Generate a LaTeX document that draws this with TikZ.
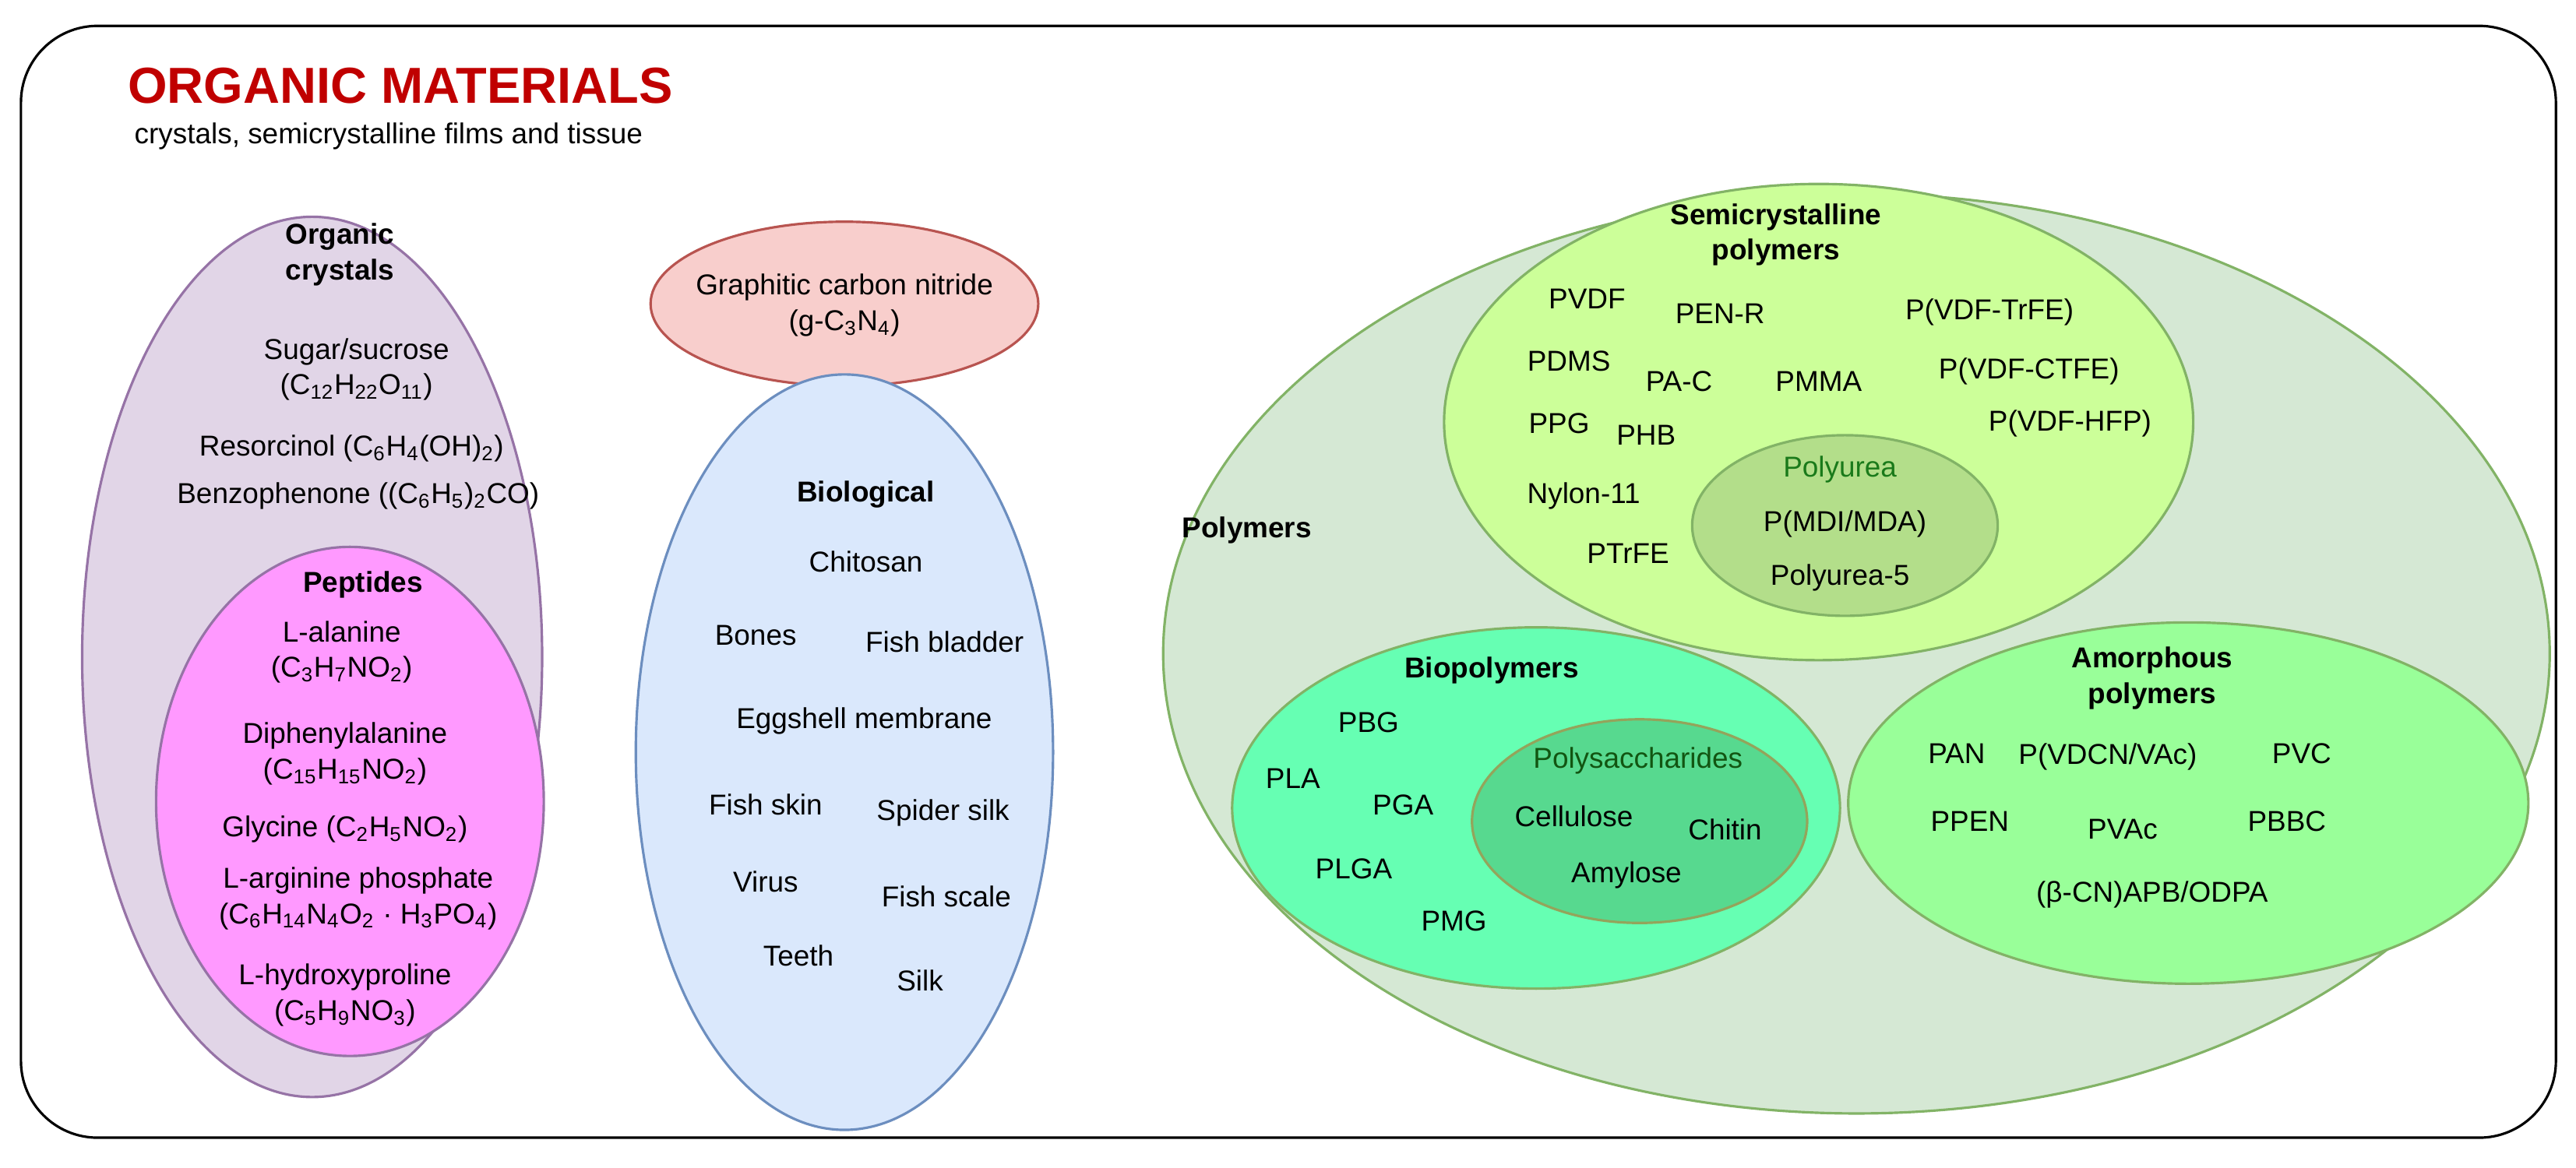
\documentclass[tikz,border=0pt]{standalone}
\usepackage{fontspec}
\setmainfont{Liberation Sans}
\usetikzlibrary{shapes.geometric}
\definecolor{purpfill}{HTML}{E1D5E7}
\definecolor{purpline}{HTML}{9673A6}
\definecolor{pinkfill}{HTML}{FF99FF}
\definecolor{redfill}{HTML}{F8CECC}
\definecolor{redline}{HTML}{B85450}
\definecolor{bluefill}{HTML}{DAE8FC}
\definecolor{blueline}{HTML}{6C8EBF}
\definecolor{greenfill}{HTML}{D5E8D4}
\definecolor{greenline}{HTML}{82B366}
\definecolor{semifill}{HTML}{CCFF99}
\definecolor{ureafill}{HTML}{B3DE8A}
\definecolor{biofill}{HTML}{66FFB3}
\definecolor{sacfill}{HTML}{57D98F}
\definecolor{amorfill}{HTML}{99FF99}
\definecolor{titlered}{HTML}{C00000}
\definecolor{darkgreen}{HTML}{1A7A1A}
\newcommand{\ix}[1]{\textsubscript{#1}}
\tikzset{
  blob/.style = {ellipse, draw, line width=0.9pt, inner sep=0pt},
  lbl/.style  = {font=\fontsize{10.5}{13}\selectfont, align=center},
  head/.style = {lbl, font=\fontsize{10.5}{13}\selectfont\bfseries}
}
\begin{document}
\begin{tikzpicture}[x=0.02109cm, y=-0.02109cm]
\useasboundingbox (0,0) rectangle (1568,711);
\node[draw, line width=0.9pt, rounded corners=28pt, minimum width=1543*0.02109cm,
  minimum height=677*0.02109cm, anchor=north west] (frame) at (12,15) {};
\node[anchor=west, text=titlered, font=\fontsize{18.5}{22}\selectfont\bfseries] (title) at (72,52) {ORGANIC MATERIALS};
\node[anchor=west, lbl] (sub) at (76,83) {crystals, semicrystalline films and tissue};

% organic crystals
\node[blob, fill=purpfill, draw=purpline, minimum width=280*0.02109cm, minimum height=536*0.02109cm] (orgc) at (190,400) {};
\node[blob, fill=pinkfill, draw=purpline, minimum width=236*0.02109cm, minimum height=310*0.02109cm] (pept) at (213,488) {};
\node[head] (orgct) at (207,155) {Organic\\crystals};
\node[lbl] (sug) at (217,225) {Sugar/sucrose\\(C\ix{12}H\ix{22}O\ix{11})};
\node[lbl] (res) at (214,273) {Resorcinol (C\ix{6}H\ix{4}(OH)\ix{2})};
\node[lbl] (ben) at (218,302) {Benzophenone ((C\ix{6}H\ix{5})\ix{2}CO)};
\node[head] (peptt) at (221,356) {Peptides};
\node[lbl] (ala) at (208,397) {L-alanine\\(C\ix{3}H\ix{7}NO\ix{2})};
\node[lbl] (dip) at (210,459) {Diphenylalanine\\(C\ix{15}H\ix{15}NO\ix{2})};
\node[lbl] (gly) at (210,505) {Glycine (C\ix{2}H\ix{5}NO\ix{2})};
\node[lbl] (arg) at (218,547) {L-arginine phosphate\\(C\ix{6}H\ix{14}N\ix{4}O\ix{2} · H\ix{3}PO\ix{4})};
\node[lbl] (hyd) at (210,606) {L-hydroxyproline\\(C\ix{5}H\ix{9}NO\ix{3})};

% carbon nitride
\node[blob, fill=redfill, draw=redline, minimum width=236*0.02109cm, minimum height=100*0.02109cm] (gcn) at (514,185) {};
\node[lbl] (gcnt) at (514,186) {Graphitic carbon nitride\\(g-C\ix{3}N\ix{4})};

% biological
\node[blob, fill=bluefill, draw=blueline, minimum width=254*0.02109cm, minimum height=460*0.02109cm] (bio) at (514,458) {};
\node[head] (biot) at (527,301) {Biological};
\node[lbl] (chi) at (527,342) {Chitosan};
\node[lbl] (bon) at (460,387) {Bones};
\node[lbl] (fbl) at (575,391) {Fish bladder};
\node[lbl] (egg) at (526,439) {Eggshell membrane};
\node[lbl] (fsk) at (466,490) {Fish skin};
\node[lbl] (spi) at (574,495) {Spider silk};
\node[lbl] (vir) at (466,537) {Virus};
\node[lbl] (fsc) at (576,546) {Fish scale};
\node[lbl] (tee) at (486,582) {Teeth};
\node[lbl] (sil) at (560,597) {Silk};

% polymers
\node[blob, fill=greenfill, draw=greenline, minimum width=844*0.02109cm, minimum height=560*0.02109cm] (poly) at (1130,398) {};
\node[head] (polyt) at (759,323) {Polymers};
\node[blob, fill=semifill, draw=greenline, minimum width=456*0.02109cm, minimum height=290*0.02109cm] (semi) at (1107,257) {};
\node[blob, fill=ureafill, draw=greenline, minimum width=186*0.02109cm, minimum height=110*0.02109cm] (urea) at (1123,320) {};
\node[head] (semit) at (1081,143) {Semicrystalline\\polymers};
\node[lbl] (pvdf) at (966,182) {PVDF};
\node[lbl] (penr) at (1047,191) {PEN-R};
\node[lbl] (trfe) at (1211,190) {P(VDF-TrFE)};
\node[lbl] (pdms) at (955,220) {PDMS};
\node[lbl] (pac) at (1022,232) {PA-C};
\node[lbl] (pmma) at (1107,232) {PMMA};
\node[lbl] (ctfe) at (1235,226) {P(VDF-CTFE)};
\node[lbl] (ppg) at (949,258) {PPG};
\node[lbl] (phb) at (1002,265) {PHB};
\node[lbl] (hfp) at (1260,258) {P(VDF-HFP)};
\node[lbl] (nyl) at (964,302) {Nylon-11};
\node[lbl] (ptr) at (991,337) {PTrFE};
\node[lbl, text=darkgreen] (ureat) at (1120,286) {Polyurea};
\node[lbl] (mdi) at (1123,319) {P(MDI/MDA)};
\node[lbl] (u5) at (1120,352) {Polyurea-5};

\node[blob, fill=biofill, draw=greenline, minimum width=370*0.02109cm, minimum height=220*0.02109cm] (biop) at (935,492) {};
\node[blob, fill=sacfill, draw=greenline!70!brown, minimum width=204*0.02109cm, minimum height=124*0.02109cm] (sac) at (998,500) {};
\node[head] (biopt) at (908,408) {Biopolymers};
\node[lbl] (pbg) at (833,440) {PBG};
\node[lbl] (pla) at (787,474) {PLA};
\node[lbl] (pga) at (854,490) {PGA};
\node[lbl] (plga) at (824,529) {PLGA};
\node[lbl] (pmg) at (885,561) {PMG};
\node[lbl, text=darkgreen!70!black] (sact) at (997,463) {Polysaccharides};
\node[lbl] (cel) at (958,497) {Cellulose};
\node[lbl] (cht) at (1050,505) {Chitin};
\node[lbl] (amy) at (990,533) {Amylose};

\node[blob, fill=amorfill, draw=greenline, minimum width=414*0.02109cm, minimum height=220*0.02109cm] (amor) at (1332,489) {};
\node[head] (amort) at (1310,413) {Amorphous\\polymers};
\node[lbl] (pan) at (1191,459) {PAN};
\node[lbl] (vdcn) at (1283,461) {P(VDCN/VAc)};
\node[lbl] (pvc) at (1401,459) {PVC};
\node[lbl] (ppen) at (1199,500) {PPEN};
\node[lbl] (pvac) at (1292,505) {PVAc};
\node[lbl] (pbbc) at (1392,500) {PBBC};
\node[lbl] (apb) at (1310,545) {(β-CN)APB/ODPA};
\end{tikzpicture}
\end{document}
